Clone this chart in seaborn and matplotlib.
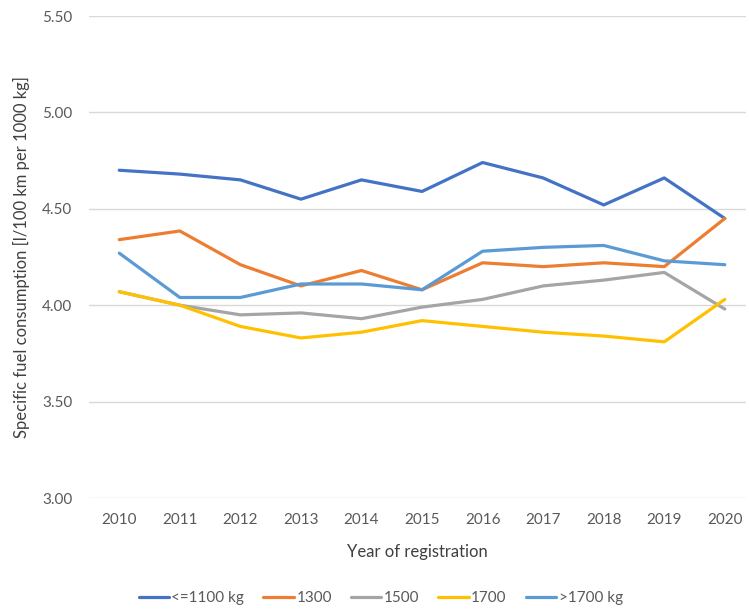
import numpy as np
import pandas as pd
import matplotlib.pyplot as plt
import seaborn as sns

# Data
years = [2010, 2011, 2012, 2013, 2014, 2015, 2016, 2017, 2018, 2019, 2020]
series_names = ["<=1100 kg", "1300", "1500", "1700", ">1700 kg"]
le_1100 = [4.70, 4.68, 4.65, 4.55, 4.65, 4.59, 4.74, 4.66, 4.52, 4.66, 4.45]
w_1300 = [4.34, 4.385, 4.21, 4.10, 4.18, 4.08, 4.22, 4.20, 4.22, 4.20, 4.45]
w_1500 = [4.07, 4.00, 3.95, 3.96, 3.93, 3.99, 4.03, 4.10, 4.13, 4.17, 3.98]
w_1700 = [4.07, 4.00, 3.89, 3.83, 3.86, 3.92, 3.89, 3.86, 3.84, 3.81, 4.03]
gt_1700 = [4.27, 4.04, 4.04, 4.11, 4.11, 4.08, 4.28, 4.30, 4.31, 4.23, 4.21]
y_ticks = [3.0, 3.5, 4.0, 4.5, 5.0, 5.5]
colors = ["#4472C4", "#ED7D31", "#A5A5A5", "#FFC000", "#5B9BD5"]

# long format for seaborn
values = [le_1100, w_1300, w_1500, w_1700, gt_1700]
df = pd.DataFrame({
    "year": years * len(series_names),
    "value": np.concatenate(values),
    "group": np.repeat(series_names, len(years)),
})

sns.set_theme(style="white")
plt.rcParams["font.family"] = ["Lato", "DejaVu Sans"]

fig = plt.figure(figsize=(7.49, 6.13), dpi=100)
ax = fig.add_axes([89 / 749, 1 - 498 / 613, (746 - 89) / 749, (498 - 16) / 613])

sns.lineplot(data=df, x="year", y="value", hue="group", hue_order=series_names,
             palette=colors, linewidth=2.3, ax=ax, legend=True)

ax.set_xlim(2009.5, 2020.35)
ax.set_ylim(3.0, 5.5)
ax.set_yticks(y_ticks)
ax.set_yticklabels([f"{v:.2f}" for v in y_ticks])
ax.set_xticks(years)
ax.set_xticklabels([str(y) for y in years])
ax.yaxis.grid(True, color="#D9D9D9", linewidth=1)
ax.xaxis.grid(False)
for s in ax.spines.values():
    s.set_visible(False)
ax.tick_params(axis="both", length=0, labelsize=11, labelcolor="#595959")
ax.tick_params(axis="x", pad=11)
ax.tick_params(axis="y", pad=12)

ax.set_xlabel("Year of registration", fontsize=12, color="#404040", labelpad=12)
ax.set_ylabel("Specific fuel consumption [l/100 km per 1000 kg]", fontsize=12, color="#404040", labelpad=9)

handles, labels = ax.get_legend_handles_labels()
ax.legend(handles, labels, loc="upper center", bbox_to_anchor=(0.444, -0.165), ncol=5,
          frameon=False, fontsize=11, handlelength=2.0, handletextpad=0.15,
          columnspacing=1.25, labelcolor="#595959")

fig.savefig("out.png", dpi=100)
